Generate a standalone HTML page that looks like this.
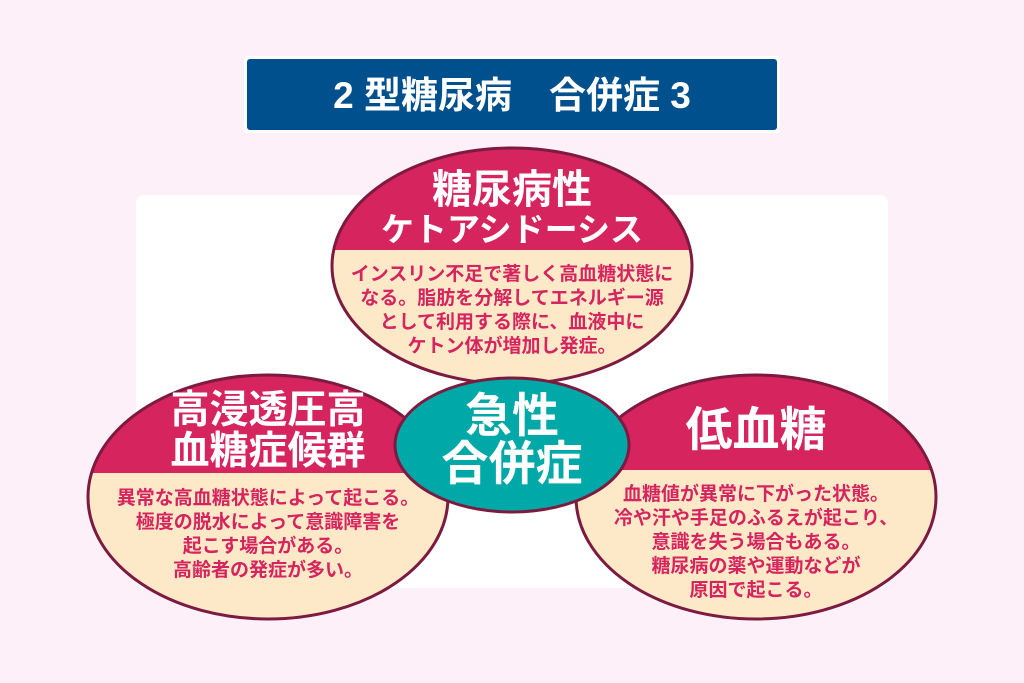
<!DOCTYPE html>
<html><head><meta charset="utf-8"><style>
body{margin:0;background:#fdf0f8}
svg{display:block}
text{font-family:"Liberation Sans","Noto Sans CJK JP",sans-serif;font-weight:bold;text-anchor:middle}
.h{fill:#fff;font-size:39px}
.b{fill:#d6245e;font-size:19px}
</style></head><body>
<svg width="1024" height="683" viewBox="0 0 1024 683">
<defs>
<clipPath id="ct"><ellipse cx="512" cy="266" rx="180" ry="118"/></clipPath>
<clipPath id="cl"><ellipse cx="268" cy="497" rx="180" ry="122"/></clipPath>
<clipPath id="cr"><ellipse cx="756" cy="497" rx="180" ry="122"/></clipPath>
</defs>
<rect width="1024" height="683" fill="#fdf0f8"/>
<rect x="136" y="195" width="752" height="393" rx="8" fill="#fff"/>
<rect x="244" y="56" width="536" height="77" rx="4" fill="#fff"/>
<rect x="247" y="59" width="530" height="71" rx="3" fill="#00508e"/>
<text x="512" y="108" fill="#fff" style="font-size:37px">2 型糖尿病　合併症 3</text>

<g clip-path="url(#ct)"><rect x="330" y="140" width="370" height="260" fill="#fde9c8"/><rect x="330" y="140" width="370" height="110" fill="#d6245e"/></g>
<ellipse cx="512" cy="266" rx="180" ry="118" fill="none" stroke="#7d1a40" stroke-width="3"/>
<text class="h" x="512" y="203" style="font-size:40px">糖尿病性</text>
<text class="h" x="512" y="241" style="font-size:33px">ケトアシドーシス</text>
<text class="b" x="512" y="280">インスリン不足で著しく高血糖状態に</text>
<text class="b" x="512" y="304">なる。脂肪を分解してエネルギー源</text>
<text class="b" x="512" y="328">として利用する際に、血液中に</text>
<text class="b" x="512" y="352">ケトン体が増加し発症。</text>

<g clip-path="url(#cl)"><rect x="80" y="370" width="380" height="260" fill="#fde9c8"/><rect x="80" y="370" width="380" height="103" fill="#d6245e"/></g>
<ellipse cx="268" cy="497" rx="180" ry="122" fill="none" stroke="#7d1a40" stroke-width="3"/>
<text class="h" x="268" y="423">高浸透圧高</text>
<text class="h" x="268" y="464">血糖症候群</text>
<text class="b" x="268" y="504">異常な高血糖状態によって起こる。</text>
<text class="b" x="268" y="528">極度の脱水によって意識障害を</text>
<text class="b" x="268" y="552">起こす場合がある。</text>
<text class="b" x="268" y="576">高齢者の発症が多い。</text>

<g clip-path="url(#cr)"><rect x="570" y="370" width="380" height="260" fill="#fde9c8"/><rect x="570" y="370" width="380" height="100" fill="#d6245e"/></g>
<ellipse cx="756" cy="497" rx="180" ry="122" fill="none" stroke="#7d1a40" stroke-width="3"/>
<text class="h" x="756" y="446" style="font-size:47px">低血糖</text>
<text class="b" x="756" y="500">血糖値が異常に下がった状態。</text>
<text class="b" x="756" y="524">冷や汗や手足のふるえが起こり、</text>
<text class="b" x="756" y="548">意識を失う場合もある。</text>
<text class="b" x="756" y="572">糖尿病の薬や運動などが</text>
<text class="b" x="756" y="596">原因で起こる。</text>

<ellipse cx="512" cy="445" rx="117" ry="67" fill="#00a8a8" stroke="#7d1a40" stroke-width="3"/>
<text class="h" x="512" y="432" style="font-size:47px">急性</text>
<text class="h" x="512" y="480" style="font-size:47px">合併症</text>
</svg>
</body></html>
